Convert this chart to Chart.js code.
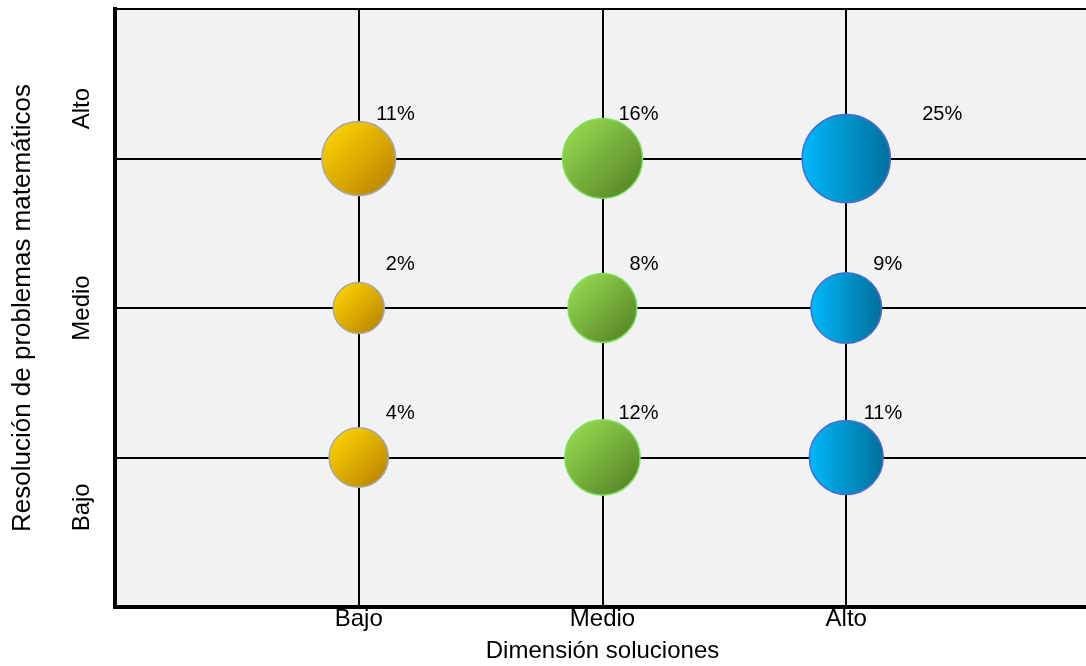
<!DOCTYPE html>
<html>
<head>
<meta charset="utf-8">
<script src="https://cdn.jsdelivr.net/npm/chart.js@4/dist/chart.umd.min.js"></script>
<style>
html,body{margin:0;padding:0;background:#fff;overflow:hidden;}
#wrap{position:relative;width:1090px;height:666px;}
</style>
</head>
<body>
<div id="wrap"><canvas id="c"></canvas></div>
<script>
// ---- data ----
const xCategories = ['Bajo', 'Medio', 'Alto'];        // Dimensión soluciones
const yCategories = ['Bajo', 'Medio', 'Alto'];        // Resolución de problemas matemáticos
const seriesNames = ['Soluciones Bajo', 'Soluciones Medio', 'Soluciones Alto'];
// percentages for resolución = Bajo, Medio, Alto
const solucionesBajo  = [4, 2, 11];
const solucionesMedio = [12, 8, 16];
const solucionesAlto  = [11, 9, 25];
const xAxisTitle = 'Dimensión soluciones';
const yAxisTitle = 'Resolución de problemas matemáticos';

const FONT = "'Liberation Sans', Arial, Helvetica, sans-serif";
Chart.defaults.font.family = FONT;
Chart.defaults.color = '#000';

const seriesValues = [solucionesBajo, solucionesMedio, solucionesAlto];
const palettes = [
  {stops: ['#f7cd00', '#c08b00'], border: '#a8a8a8', diagonal: true},
  {stops: ['#92d24c', '#5a8c2a'], border: '#7ce064', diagonal: true},
  {stops: ['#00b8fa', '#006f9c'], border: '#4a6ecb', diagonal: false}
];

function bubbleRadius(v) { return 22 * Math.pow(v, 0.216); }

function fillFor(p) {
  return function (ctx) {
    const chart = ctx.chart;
    if (!ctx.raw || !chart.chartArea) return p.stops[0];
    const x = chart.scales.x.getPixelForValue(ctx.raw.x);
    const y = chart.scales.y.getPixelForValue(ctx.raw.y);
    const r = bubbleRadius(ctx.raw.v);
    const g = p.diagonal
      ? chart.ctx.createLinearGradient(x - r * 0.7, y - r * 0.7, x + r * 0.7, y + r * 0.7)
      : chart.ctx.createLinearGradient(x - r, y, x + r, y);
    g.addColorStop(0, p.stops[0]);
    g.addColorStop(1, p.stops[1]);
    return g;
  };
}

const datasets = seriesValues.map((vals, si) => ({
  label: seriesNames[si],
  data: vals.map((v, yi) => ({x: si + 1, y: yi + 1, v: v})),
  radius: (ctx) => ctx.raw ? bubbleRadius(ctx.raw.v) : 20,
  backgroundColor: fillFor(palettes[si]),
  borderColor: palettes[si].border,
  borderWidth: 1.5
}));

const areaBg = {
  id: 'areaBg',
  beforeDraw(chart) {
    const a = chart.chartArea, c = chart.ctx;
    c.save();
    c.fillStyle = '#f2f2f2';
    c.fillRect(a.left, a.top, a.right - a.left, a.bottom - a.top);
    c.restore();
  }
};

const valueLabels = {
  id: 'valueLabels',
  afterDatasetsDraw(chart, args, opts) {
    const c = chart.ctx;
    c.save();
    c.font = opts.size + 'px ' + FONT;
    c.fillStyle = '#000';
    c.textAlign = 'right';
    c.textBaseline = 'middle';
    chart.data.datasets.forEach((ds, di) => {
      const meta = chart.getDatasetMeta(di);
      meta.data.forEach((el, i) => {
        const extra = (opts.extraShift[di] && opts.extraShift[di][i]) || 0;
        c.fillText(ds.data[i].v + '%', el.x + opts.dx + extra, el.y + opts.dy);
      });
    });
    c.restore();
  }
};

function noPad(s) { s.paddingTop = 0; s.paddingBottom = 0; s.paddingLeft = 0; s.paddingRight = 0; }

new Chart(document.getElementById('c'), {
  type: 'bubble',
  data: {datasets: datasets},
  plugins: [areaBg, valueLabels],
  options: {
    responsive: true,
    maintainAspectRatio: false,
    animation: false,
    events: [],
    layout: {autoPadding: false, padding: {top: 9, left: 0, right: 0, bottom: 0}},
    plugins: {
      legend: {display: false},
      tooltip: {enabled: false},
      valueLabels: {size: 20, dx: 56, dy: -44, extraShift: [[0, 0, 0], [0, 0, 0], [0, 0, 60]]}
    },
    scales: {
      x: {
        type: 'linear', min: 0, max: 4,
        afterBuildTicks: (s) => { s.ticks = [1, 2, 3].map(v => ({value: v})); },
        ticks: {
          callback: (v) => xCategories[Math.round(v) - 1],
          font: {size: 24, lineHeight: 1}, color: '#000', padding: 0,
          maxRotation: 0, minRotation: 0, autoSkip: false
        },
        grid: {color: '#000', lineWidth: 2, drawTicks: false},
        border: {color: '#000', width: 4},
        title: {display: true, text: xAxisTitle, font: {size: 24}, color: '#000', padding: {top: 0, bottom: 0}},
        afterFit: (s) => { s.height = 59; noPad(s); }
      },
      y: {
        type: 'linear', position: 'left', min: 0, max: 4, weight: 0,
        afterBuildTicks: (s) => { s.ticks = [1, 2, 3, 4].map(v => ({value: v})); },
        ticks: {display: false},
        grid: {color: '#000', lineWidth: 2, drawTicks: false},
        border: {color: '#000', width: 4},
        afterFit: (s) => { s.width = 0; noPad(s); }
      },
      yLab: {
        type: 'linear', position: 'left', min: 0, max: 3, weight: 1,
        afterBuildTicks: (s) => { s.ticks = [0.5, 1.5, 2.5].map(v => ({value: v})); },
        ticks: {
          callback: (v) => yCategories[Math.floor(v)],
          minRotation: 90, maxRotation: 90, crossAlign: 'center', padding: 0,
          font: {size: 24}, color: '#000', autoSkip: false
        },
        grid: {display: false, drawTicks: false},
        border: {display: false},
        title: {display: true, text: yAxisTitle, font: {size: 26}, color: '#000', padding: {top: 7, bottom: 0}},
        afterFit: (s) => { s.width = 115; noPad(s); }
      }
    }
  }
});
</script>
</body>
</html>
